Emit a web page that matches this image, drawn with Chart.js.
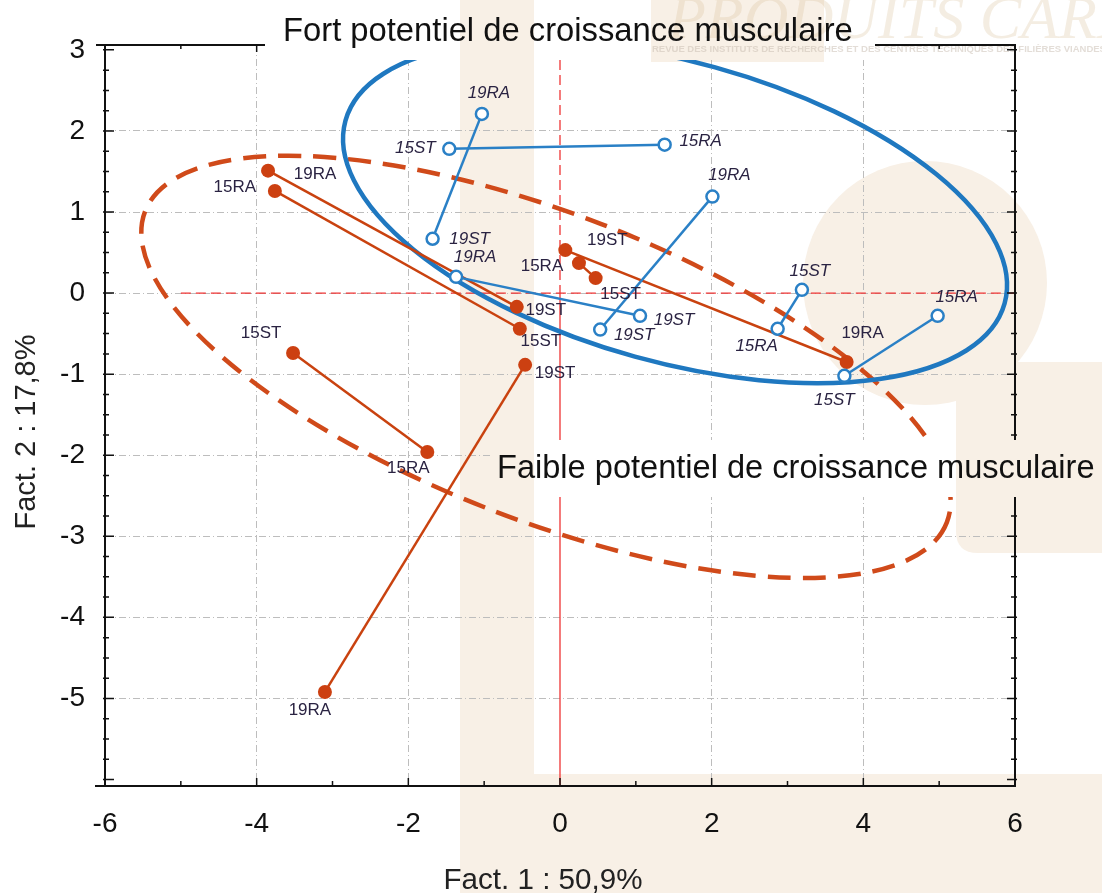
<!DOCTYPE html>
<html>
<head>
<meta charset="utf-8">
<script src="https://cdn.jsdelivr.net/npm/chart.js@4.4.1/dist/chart.umd.min.js"></script>
<style>
  html, body { margin: 0; padding: 0; background: #fff; }
  #wrap { width: 1102px; height: 893px; }
</style>
</head>
<body>
<div id="wrap"><canvas id="graph"></canvas></div>
<script>

// red group (filled dots)
var redX = [-3.85, -0.57, -3.76, -0.53, -3.52, -1.75, -0.46, -3.10, 0.07, 3.78, 0.25, 0.47];
var redY = [1.51, -0.17, 1.26, -0.44, -0.74, -1.96, -0.885, -4.92, 0.53, -0.85, 0.37, 0.185];
var redNames = ['19RA', '19ST', '15RA', '15ST', '15ST', '15RA', '19ST', '19RA', '19ST', '19RA', '15RA', '15ST'];
var redLinks = [[0, 1], [2, 3], [4, 5], [6, 7], [8, 9], [10, 11]];

// blue group (open dots)
var blueX = [-1.46, 1.38, -1.03, -1.68, -1.37, 1.055, 0.53, 2.01, 2.87, 3.19, 3.75, 4.98];
var blueY = [1.78, 1.83, 2.21, 0.67, 0.20, -0.28, -0.45, 1.19, -0.44, 0.04, -1.02, -0.28];
var blueNames = ['15ST', '15RA', '19RA', '19ST', '19RA', '19ST', '19ST', '19RA', '15RA', '15ST', '15ST', '15RA'];
var blueLinks = [[0, 1], [2, 3], [4, 5], [6, 7], [8, 9], [10, 11]];

var xTicks = [-6, -4, -2, 0, 2, 4, 6];
var yTicks = [-5, -4, -3, -2, -1, 0, 1, 2, 3];

var xTitle = 'Fact. 1 : 50,9%';
var yTitle = 'Fact. 2 : 17,8%';
var topNote = 'Fort potentiel de croissance musculaire';
var lowNote = 'Faible potentiel de croissance musculaire';

// label placement (pixels from the dot)
var redLabelOffsets = [[47, 4], [29, 3], [-40, -4], [21, 13], [-32, -20], [-19, 16], [30, 8], [-15, 18], [42, -10], [16, -29], [-37, 3], [25, 16]];
var blueLabelOffsets = [[-34, -1], [36, -3], [7, -21], [37, 1], [19, -20], [34, 4], [34, 6], [17, -21], [-21, 18], [8, -19], [-10, 24], [19, -19]];

// group ellipses: centre in data units, half axes in x units, tilt in degrees
var blueEllipse = { cx: 1.517, cy: 1.0, a: 4.51, b: 1.98, tilt: 15.5 };
var redEllipse = { cx: -0.185, cy: -0.91, a: 5.67, b: 2.02, tilt: 21.2 };

var W = 1102, H = 893;
var FONT = "'Liberation Sans', Arial, sans-serif";
var RED = '#cc4011';
var BLUE = '#2a80c6';
var BEIGE = '#f8f0e6';
var LABEL = '#2a2342';

function makeSets(xs, ys, links, style) {
    return links.map(function (l) {
        var ds = {
            data: l.map(function (i) { return { x: xs[i], y: ys[i] }; }),
            showLine: true
        };
        return Object.assign(ds, style);
    });
}

var redStyle = {
    borderColor: '#c9420f', borderWidth: 2.5,
    pointRadius: 7, pointBackgroundColor: RED, pointBorderColor: RED, pointBorderWidth: 0
};
var blueStyle = {
    borderColor: BLUE, borderWidth: 2.5,
    pointRadius: 6, pointBackgroundColor: '#fff', pointBorderColor: BLUE, pointBorderWidth: 2.5
};

function fitText(ctx, str, x, y, w, size) {
    ctx.font = size + 'px ' + FONT;
    var m = ctx.measureText(str).width;
    ctx.font = (size * w / m).toFixed(2) + 'px ' + FONT;
    ctx.fillText(str, x, y);
}

function drawEllipse(chart, e, color, width, dash) {
    var ctx = chart.ctx;
    var xs = chart.scales.x, ys = chart.scales.y;
    var unit = xs.getPixelForValue(1) - xs.getPixelForValue(0);
    ctx.save();
    ctx.beginPath();
    ctx.ellipse(xs.getPixelForValue(e.cx), ys.getPixelForValue(e.cy), e.a * unit, e.b * unit, e.tilt * Math.PI / 180, 0, 2 * Math.PI);
    ctx.strokeStyle = color;
    ctx.lineWidth = width;
    ctx.setLineDash(dash);
    ctx.stroke();
    ctx.restore();
}

function drawNames(chart, xs0, ys0, names, offs, font) {
    var ctx = chart.ctx;
    var xs = chart.scales.x, ys = chart.scales.y;
    ctx.save();
    ctx.font = font;
    ctx.fillStyle = LABEL;
    ctx.textAlign = 'center';
    ctx.textBaseline = 'middle';
    for (var i = 0; i < names.length; i++) {
        ctx.fillText(names[i], xs.getPixelForValue(xs0[i]) + offs[i][0], ys.getPixelForValue(ys0[i]) + offs[i][1]);
    }
    ctx.restore();
}

var decor = {
    id: 'decor',
    beforeDraw: function (chart) {
        var ctx = chart.ctx;
        ctx.save();
        ctx.fillStyle = '#fff';
        ctx.fillRect(0, 0, W, H);
        // faded journal watermark
        ctx.fillStyle = BEIGE;
        ctx.fillRect(460, 0, 74, H);
        ctx.fillRect(460, 774, W - 460, H - 774);
        ctx.fillRect(651, 0, 173, 62);
        ctx.beginPath();
        ctx.arc(925, 283, 122, 0, 2 * Math.PI);
        ctx.fill();
        ctx.beginPath();
        ctx.moveTo(956, 362);
        ctx.lineTo(W, 362);
        ctx.lineTo(W, 553);
        ctx.lineTo(978, 553);
        ctx.quadraticCurveTo(956, 553, 956, 531);
        ctx.closePath();
        ctx.fill();
        ctx.font = "italic 62px 'Liberation Serif', serif";
        ctx.fillStyle = 'rgba(214,190,150,0.28)';
        ctx.fillText('PRODUITS CARNÉS', 668, 38);
        ctx.font = "bold 9.5px " + FONT;
        ctx.fillStyle = 'rgba(200,188,175,0.5)';
        ctx.fillText('REVUE DES INSTITUTS DE RECHERCHES ET DES CENTRES TECHNIQUES DES FILIÈRES VIANDES ET PRODUITS CARNÉS', 652, 52);
        ctx.restore();

        // keep plot marks out of the two caption bands
        ctx.save();
        ctx.beginPath();
        ctx.rect(0, 0, W, H);
        ctx.rect(265, 0, 610, 60);
        ctx.rect(490, 440, W - 490, 57);
        ctx.clip('evenodd');
    },
    beforeDatasetsDraw: function (chart) {
        var ctx = chart.ctx;
        var xs = chart.scales.x, ys = chart.scales.y, a = chart.chartArea;
        var x0 = xs.getPixelForValue(0), y0 = ys.getPixelForValue(0);
        ctx.save();
        ctx.strokeStyle = '#ee3333';
        ctx.lineWidth = 1.3;
        ctx.setLineDash([10, 5]);
        ctx.beginPath();
        ctx.moveTo(xs.getPixelForValue(-5), y0);
        ctx.lineTo(a.right, y0);
        ctx.moveTo(x0, a.top);
        ctx.lineTo(x0, y0);
        ctx.stroke();
        ctx.setLineDash([]);
        ctx.beginPath();
        ctx.moveTo(x0, y0);
        ctx.lineTo(x0, a.bottom);
        ctx.stroke();
        ctx.restore();
        drawEllipse(chart, redEllipse, '#d04a1a', 4.5, [23, 12]);
        drawEllipse(chart, blueEllipse, '#1f78c0', 4.5, []);
    },
    afterDatasetsDraw: function (chart) {
        drawNames(chart, redX, redY, redNames, redLabelOffsets, '17px ' + FONT);
        drawNames(chart, blueX, blueY, blueNames, blueLabelOffsets, 'italic 17px ' + FONT);
    },
    afterDraw: function (chart) {
        var ctx = chart.ctx;
        var xs = chart.scales.x, ys = chart.scales.y, a = chart.chartArea;
        ctx.save();
        ctx.strokeStyle = '#111';
        ctx.lineWidth = 2;
        ctx.beginPath();
        ctx.moveTo(a.left, a.top);
        ctx.lineTo(a.left, a.bottom);
        ctx.moveTo(a.left - 10, a.bottom);
        ctx.lineTo(a.right + 1, a.bottom);
        ctx.moveTo(a.left - 9, a.top);
        ctx.lineTo(a.right + 1, a.top);
        ctx.moveTo(a.right, a.top);
        ctx.lineTo(a.right, a.bottom);
        ctx.stroke();
        ctx.lineWidth = 1.5;
        ctx.beginPath();
        var v, p, big;
        for (v = -6; v <= 3; v += 0.25) {
            p = ys.getPixelForValue(v);
            if (p > a.bottom || p < a.top) continue;
            big = Math.abs(v - Math.round(v)) < 0.01;
            ctx.moveTo(a.left - 2, p);
            ctx.lineTo(a.left + (big ? 9 : 4), p);
            ctx.moveTo(a.right + 2, p);
            ctx.lineTo(a.right - (big ? 8 : 4), p);
        }
        for (v = -5; v <= 5; v += 1) {
            p = xs.getPixelForValue(v);
            big = v % 2 === 0;
            ctx.moveTo(p, a.bottom);
            ctx.lineTo(p, a.bottom - (big ? 8 : 5));
            ctx.moveTo(p, a.top);
            ctx.lineTo(p, a.top + (big ? 7 : 4));
        }
        ctx.stroke();
        ctx.restore();

        ctx.restore(); // caption clip from beforeDraw

        ctx.save();
        ctx.fillStyle = '#111';
        ctx.textAlign = 'left';
        ctx.textBaseline = 'alphabetic';
        fitText(ctx, topNote, 283, 41, 570, 30);
        fitText(ctx, lowNote, 497, 478, 598, 30);
        ctx.fillStyle = '#222';
        ctx.textAlign = 'center';
        fitText(ctx, xTitle, 543, 889, 199, 29);
        ctx.translate(35, 432);
        ctx.rotate(-Math.PI / 2);
        fitText(ctx, yTitle, 0, 0, 195, 29);
        ctx.restore();
    }
};

var gridColor = '#bdbdbd';

var chart = new Chart(document.getElementById('graph').getContext('2d'), {
    type: 'scatter',
    data: {
        datasets: makeSets(blueX, blueY, blueLinks, blueStyle).concat(makeSets(redX, redY, redLinks, redStyle))
    },
    options: {
        responsive: true,
        maintainAspectRatio: false,
        animation: false,
        devicePixelRatio: 1,
        layout: { padding: { top: 45, right: 87, left: 0, bottom: 0 } },
        plugins: { legend: { display: false }, tooltip: { enabled: false } },
        scales: {
            x: {
                type: 'linear',
                min: -6,
                max: 6,
                afterBuildTicks: function (axis) { axis.ticks = xTicks.map(function (t) { return { value: t }; }); },
                afterFit: function (axis) { axis.height = 107; },
                ticks: { font: { family: FONT, size: 28 }, color: '#111', padding: 21, maxRotation: 0 },
                grid: {
                    drawTicks: false,
                    lineWidth: 1,
                    color: function (c) { var t = c.tick && c.tick.value; return (t === 0 || t === -6 || t === 6) ? 'rgba(0,0,0,0)' : gridColor; }
                },
                border: { display: false, dash: [7, 3, 1, 3] }
            },
            y: {
                type: 'linear',
                min: -6.08,
                max: 3.06,
                afterBuildTicks: function (axis) { axis.ticks = yTicks.map(function (t) { return { value: t }; }); },
                afterFit: function (axis) { axis.width = 105; },
                ticks: { font: { family: FONT, size: 28 }, color: '#111', padding: 20 },
                grid: {
                    drawTicks: false,
                    lineWidth: 1,
                    color: function (c) { var t = c.tick && c.tick.value; return t === 3 ? 'rgba(0,0,0,0)' : gridColor; }
                },
                border: { display: false, dash: [7, 3, 1, 3] }
            }
        }
    },
    plugins: [decor]
});

</script>
</body>
</html>
